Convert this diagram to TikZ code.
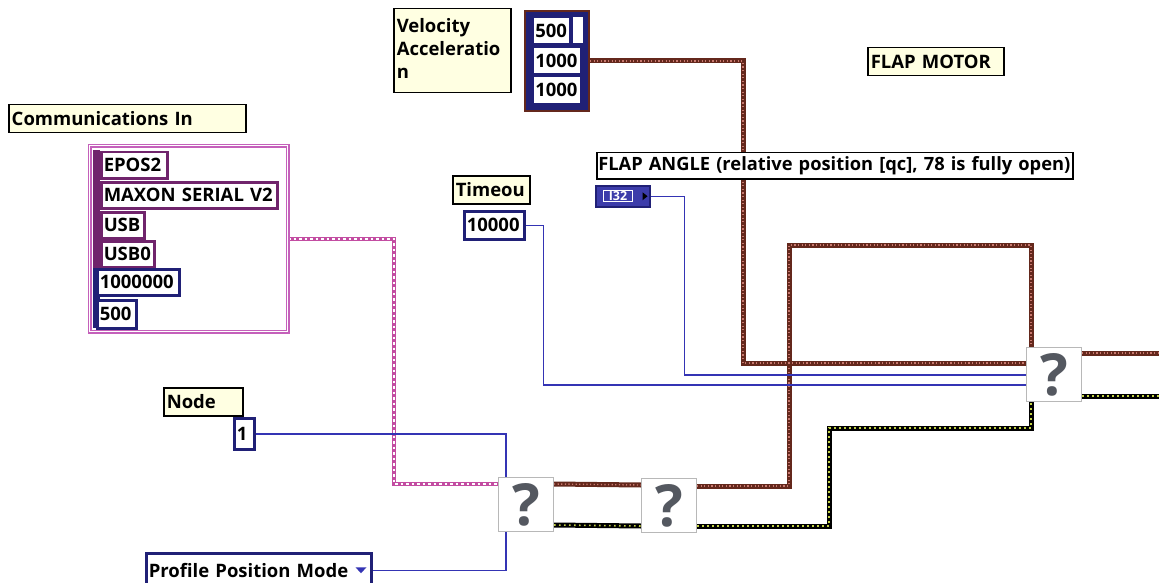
\documentclass[tikz,border=0pt]{standalone}
\usepackage{fontspec}
\setsansfont{Open Sans}
\usepackage{tikz}
\usetikzlibrary{positioning,calc}
\usepackage{xcolor}
\definecolor{lblyellow}{RGB}{255,255,226}
\definecolor{numblue}{RGB}{32,32,118}
\definecolor{strpurple}{RGB}{112,36,108}
\definecolor{clpink}{RGB}{196,96,186}
\definecolor{wirebrown}{RGB}{100,40,28}
\definecolor{dotbrown}{RGB}{200,120,110}
\definecolor{wireblue}{RGB}{52,52,180}
\definecolor{dotgreen}{RGB}{196,212,70}
\definecolor{qgray}{RGB}{84,88,96}
\definecolor{i32blue}{RGB}{60,60,170}
\pgfdeclarelayer{bg}
\pgfdeclarelayer{wires}
\pgfsetlayers{bg,wires,main}
\newcommand{\lvfont}{\sffamily\bfseries\fontsize{18.5}{23}\selectfont}

\begin{document}
\begin{tikzpicture}[x=1pt,y=-1pt,
    lbl/.style={draw=black, line width=1.5, fill=lblyellow, anchor=north west,
        inner xsep=3, inner ysep=0, font=\lvfont, align=left, text width=#1, minimum height=28},
    numc/.style={draw=numblue, line width=2.5, fill=white, anchor=north west,
        inner xsep=2.5, inner ysep=0, font=\lvfont, text width=#1, minimum height=26},
    strc/.style={numc=#1, draw=strpurple},
    qbox/.style={draw=black!28, line width=1, fill=white, anchor=north west,
        minimum width=55, minimum height=54, inner sep=0,
        font=\sffamily\bfseries\fontsize{58}{58}\selectfont, text=qgray},
    bluewire/.style={draw=wireblue, line width=1.5},
    brownwire/.style={draw=wirebrown, line width=5,
        postaction={draw=dotbrown, line width=1.4, dash pattern=on 1.2 off 2.4}},
    greenwire/.style={draw=black, line width=5,
        postaction={draw=dotgreen, line width=1.6, dash pattern=on 1.6 off 3.4}},
    pinkwire/.style={draw=clpink!80!purple, line width=4.5,
        postaction={draw=white, line width=1.5, dash pattern=on 2.5 off 3}}]
    \begin{pgfonlayer}{bg}
    \fill[white] (0,0) rectangle (1159,583);
    \end{pgfonlayer}
    \useasboundingbox (0,0) rectangle (1159,583);

    % Communications cluster
    \node[lbl=231] (commlbl) at (8,104) {Communications In};
    \node[draw=clpink, line width=1.2, double=white, double distance=1.6, fill=white,
        anchor=north west, minimum width=198, minimum height=186] (commcl) at (89,145) {};
    \fill[strpurple] (93,150) rectangle (100,268);
    \fill[numblue] (93,268) rectangle (100,328);
    \node[strc=61] (epos) at (100,151) {EPOS2};
    \node[strc=171] (maxon) at (100,181) {MAXON SERIAL V2};
    \node[strc=38] (usb) at (100,211) {USB};
    \node[strc=48] (usbz) at (100,240) {USB0};
    \node[numc=77] (baud) at (96,268) {1000000};
    \node[numc=34, minimum height=28] (tmoc) at (96,299) {500};

    % Velocity / acceleration
    \node[lbl=111, minimum height=84, anchor=north west] (vellbl) at (393,8) {Velocity\\Acceleratio\\n\vspace{5pt}};
    \node[draw=wirebrown, line width=2, fill=numblue, anchor=north west,
        minimum width=64, minimum height=100] (velcl) at (524,10) {};
    \fill[white] (573,17) rectangle (583,43);
    \node[numc=32, line width=1.5] (vel) at (532,17) {500};
    \node[numc=43, line width=1.5] (acc) at (532,47) {1000};
    \node[numc=43, line width=1.5, minimum height=27] (dec) at (532,76) {1000};

    \node[lbl=130] (motorlbl) at (867,47) {FLAP MOTOR};

    % Flap angle
    \node[lbl=473, inner xsep=1.5, fill=white, minimum height=26,
        font=\sffamily\bfseries\fontsize{18.3}{20}\selectfont] (anglbl) at (596,152) {FLAP ANGLE (relative position [qc], 78 is fully open)};
    \node[draw=numblue, line width=1.5, fill=i32blue, anchor=north west,
        minimum width=54, minimum height=21, inner sep=0] (i32) at (595,185) {};
    \node[draw=white, line width=1.2, fill=i32blue, text=white, inner xsep=5, inner ysep=1,
        font=\sffamily\bfseries\fontsize{12.5}{12.5}\selectfont] (i32txt) at ($(i32.west)+(23,0)$) {I32};
    \fill[black] ($(i32.east)+(-8,-4)$) -- ++(5,4) -- ++(-5,4) -- cycle;

    % Timeout
    \node[lbl=71] (tmolbl) at (452,175) {Timeou};
    \node[numc=55, minimum height=28] (tmo) at (463,210) {10000};

    % Node id and mode
    \node[lbl=73] (nodelbl) at (163,387) {Node};
    \node[numc=15, minimum height=31] (one) at (233,417) {1};
    \node[numc=220, minimum height=34] (prof) at (145,552) {Profile Position Mode};
    \fill[wireblue] ($(prof.east)+(-17,-3)$) -- ++(11,0) -- ++(-5.5,6) -- cycle;

    % Unknown nodes
    \node[qbox] (q1) at (498,477) {?};
    \node[qbox] (q2) at (641,478) {?};
    \node[qbox] (q3) at (1026,347) {?};
    \coordinate (outA) at (1165,353);
    \coordinate (outB) at (1165,396);

    % Wires
    \begin{pgfonlayer}{wires}
    \draw[pinkwire] ($(commcl.north east)+(0,94)$) -- ++(106,0) |- ($(q1.north west)+(0,7)$);
    \draw[bluewire] (one.east) -| ($(q1.north west)+(8,0)$);
    \draw[bluewire] (prof.east) -| ($(q1.south west)+(8,0)$);
    \draw[brownwire] ($(q1.north east)+(0,7)$) -- ($(q2.north west)+(0,7)$);
    \draw[greenwire] ($(q1.north east)+(0,48)$) -- ($(q2.north west)+(0,48)$);
    \draw[brownwire] ($(q2.north east)+(0,8)$) -- ++(92,0) |- ($(q3.north west)+(5,-102)$) -- ($(q3.north west)+(5,0)$);
    \draw[greenwire] ($(q2.north east)+(0,48)$) -- ++(132,0) |- ($(q3.south west)+(5,26)$) -- ($(q3.south west)+(5,0)$);
    \draw[brownwire] (velcl.east) -- ++(153,0) |- ($(q3.north west)+(0,16)$);
    \draw[bluewire] (i32.east) -- ++(34,0) |- ($(q3.north west)+(0,28)$);
    \draw[bluewire] (tmo.east) -- ++(18,0) |- ($(q3.north west)+(0,38)$);
    \draw[brownwire] ($(q3.north east)+(0,6)$) -- (outA);
    \draw[greenwire] ($(q3.south east)+(0,-6)$) -- (outB);
    \end{pgfonlayer}
\end{tikzpicture}
\end{document}
